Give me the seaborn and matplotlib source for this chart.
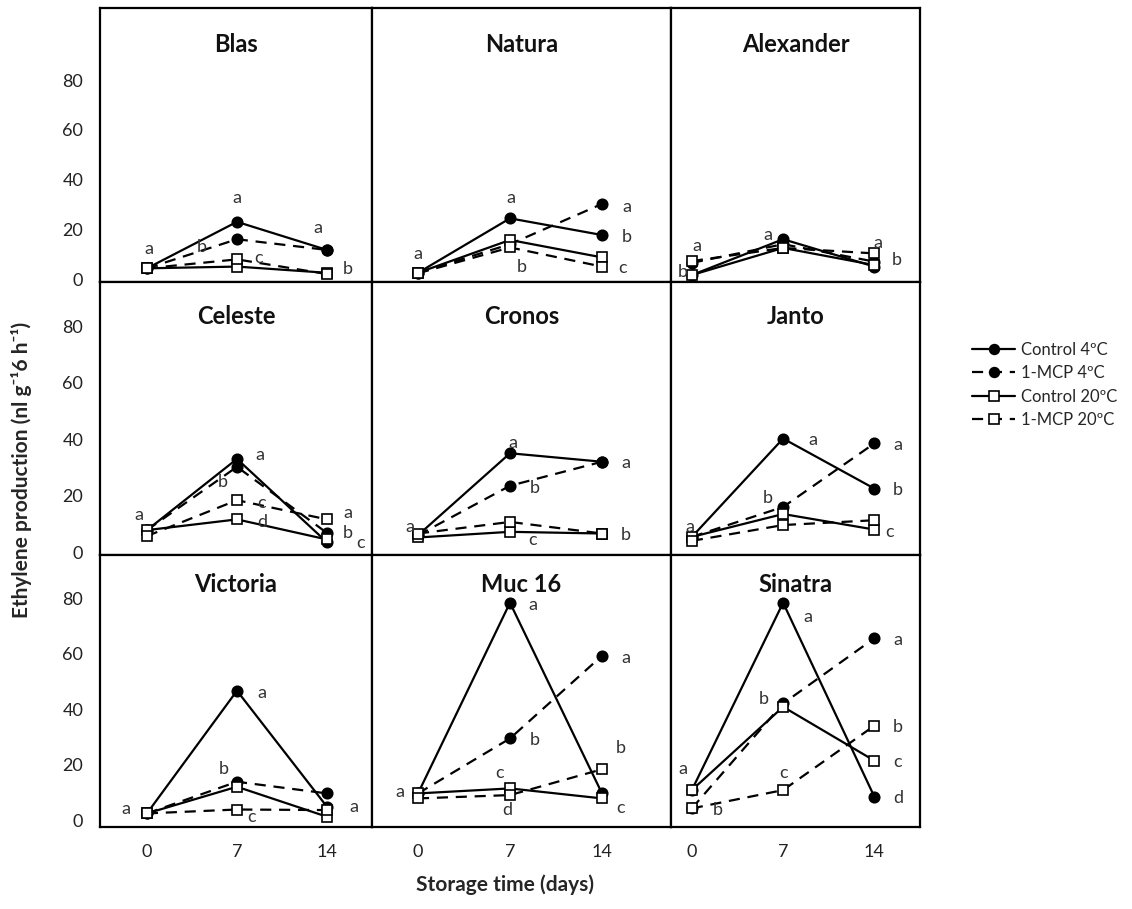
import matplotlib
matplotlib.use("Agg")
import matplotlib.pyplot as plt
from matplotlib.lines import Line2D
import seaborn as sns
import pandas as pd

sns.set_theme(style="white")
plt.rcParams['font.family'] = ['Lato', 'DejaVu Sans']

days = [0, 7, 14]
series_names = ["Control 4ºC", "1-MCP 4ºC", "Control 20ºC", "1-MCP 20ºC"]
cultivars = ["Blas", "Natura", "Alexander",
             "Celeste", "Cronos", "Janto",
             "Victoria", "Muc 16", "Sinatra"]

# values per cultivar: [Control 4, 1-MCP 4, Control 20, 1-MCP 20] at days 0, 7, 14
blas = [[4.3, 23.0, 11.7], [4.3, 16.0, 11.7], [4.3, 5.0, 2.5], [4.3, 7.9, 2.0]]
natura = [[2.5, 24.4, 17.7], [2.5, 14.0, 30.2], [2.5, 15.7, 8.7], [2.3, 12.7, 5.0]]
alexander = [[1.6, 16.0, 5.0], [6.5, 14.0, 7.0], [1.6, 12.5, 5.6], [7.2, 12.5, 10.3]]
celeste = [[7.8, 33.0, 3.5], [7.8, 30.2, 6.8], [7.8, 11.6, 4.5], [5.7, 18.4, 11.6]]
cronos = [[6.0, 35.0, 32.0], [6.0, 23.5, 32.0], [5.2, 7.2, 6.6], [6.6, 10.7, 6.6]]
janto = [[5.4, 40.2, 22.5], [5.4, 16.0, 38.5], [5.4, 13.5, 8.0], [4.0, 9.6, 11.3]]
victoria = [[2.4, 46.6, 4.8], [2.4, 13.8, 9.6], [2.4, 12.0, 1.2], [2.4, 3.8, 3.6]]
muc16 = [[9.6, 78.3, 9.6], [9.6, 29.4, 59.2], [9.6, 11.4, 7.8], [7.8, 9.0, 18.3]]
sinatra = [[10.8, 78.3, 8.4], [4.2, 42.0, 65.5], [10.8, 40.8, 21.4], [4.2, 10.8, 34.0]]
values = [blas, natura, alexander, celeste, cronos, janto, victoria, muc16, sinatra]

# significance letters: (day position, value position, letter)
letters = [
    [(0.15, 12, "a"), (7, 32.6, "a"), (4.3, 12.9, "b"), (8.7, 8.4, "c"), (13.3, 20.5, "a"), (15.6, 4, "b")],
    [(0, 10, "a"), (7.1, 32.6, "a"), (7.9, 4.8, "b"), (15.9, 29, "a"), (15.9, 16.9, "b"), (15.6, 4.4, "c")],
    [(0.4, 13.3, "a"), (-0.7, 2.8, "b"), (5.8, 17.7, "a"), (14.3, 14.5, "a"), (15.7, 7.6, "b")],
    [(-0.6, 13, "a"), (8.8, 34.3, "a"), (5.9, 24.8, "b"), (8.9, 17.3, "c"), (9.0, 10.6, "d"),
     (15.6, 13.8, "a"), (15.6, 6.7, "b"), (16.6, 3.2, "c")],
    [(-0.6, 8.9, "a"), (7.2, 38.6, "a"), (8.9, 22.6, "b"), (8.7, 4.2, "c"), (15.8, 31.5, "a"), (15.8, 6, "b")],
    [(-0.15, 8.9, "a"), (9.3, 39.6, "a"), (5.8, 19, "b"), (15.8, 37.9, "a"), (15.8, 22, "b"), (15.2, 7, "c")],
    [(-1.6, 4, "a"), (8.9, 45.8, "a"), (6.0, 18.4, "b"), (8.1, 1, "c"), (16.1, 4.7, "a")],
    [(-1.4, 10, "a"), (8.75, 77.5, "a"), (6.2, 16.9, "c"), (8.9, 28.8, "b"), (6.8, 3.6, "d"),
     (15.8, 58.4, "a"), (15.4, 25.9, "b"), (15.4, 4.3, "c")],
    [(-0.7, 18.4, "a"), (2.0, 3.6, "b"), (5.5, 43.6, "b"), (7.0, 16.9, "c"), (8.9, 73.2, "a"),
     (15.8, 65, "a"), (15.8, 33.5, "b"), (15.8, 21, "c"), (15.8, 7.9, "d")],
]

yticks = [0, 20, 40, 60, 80]
xticks = [0, 7, 14]

W, H = 1132, 909
fig = plt.figure(figsize=(W / 100, H / 100), dpi=100)

col_px = [(100, 272), (372, 299), (671, 249)]
row_px = [(8, 274), (282, 273), (555, 272)]
col_xlim = [(-3.65, 17.5), (-3.5, 19.25), (-1.6, 17.5)]
row_ylim = [(-1.2, 109), (-1.0, 95.6), (-2.5, 95.5)]
title_off = [37, 34, 29]

styles = [
    dict(linestyle="-", marker="o", markerfacecolor="black"),
    dict(linestyle=(0, (5, 3.5)), marker="o", markerfacecolor="black"),
    dict(linestyle="-", marker="s", markerfacecolor="white"),
    dict(linestyle=(0, (5, 3.5)), marker="s", markerfacecolor="white"),
]

for i, name in enumerate(cultivars):
    r, c = divmod(i, 3)
    x0, w = col_px[c]
    y0, h = row_px[r]
    ax = fig.add_axes([x0 / W, 1 - (y0 + h) / H, w / W, h / H])
    for s, vals in enumerate(values[i]):
        df = pd.DataFrame({"day": days, "val": vals})
        st = styles[s]
        sns.lineplot(data=df, x="day", y="val", ax=ax, color="black", lw=1.6,
                     linestyle=st["linestyle"], marker=st["marker"],
                     markerfacecolor=st["markerfacecolor"], markeredgecolor="black",
                     markeredgewidth=1.2, markersize=7.5 if st["marker"] == "o" else 7,
                     zorder=3 + s)
    for (lx, ly, t) in letters[i]:
        ax.text(lx, ly, t, fontsize=13, color="#333333", ha="center", va="center", zorder=10)
    ax.set_xlim(*col_xlim[c])
    ax.set_ylim(*row_ylim[r])
    ax.text(0.5, 1 - title_off[r] / h, name, transform=ax.transAxes, ha="center",
            va="center", fontsize=17, fontweight="bold", color="#111111", zorder=2)
    ax.set_xlabel("")
    ax.set_ylabel("")
    ax.set_yticks(yticks)
    ax.set_xticks(xticks)
    ax.tick_params(length=0, labelsize=13, colors="#222222", pad=12)
    if c != 0:
        ax.set_yticklabels([])
    if r != 2:
        ax.set_xticklabels([])
    for sp in ax.spines.values():
        sp.set_color("black")
        sp.set_linewidth(1.6)
    ax.grid(False)

fig.text(22 / W, 1 - 470 / H, "Ethylene production (nl g⁻¹6 h⁻¹)", rotation=90,
         ha="center", va="center", fontsize=15, fontweight="bold")
fig.text(505 / W, 1 - 885 / H, "Storage time (days)", ha="center", va="center",
         fontsize=15, fontweight="bold")

handles = []
for s, nm in enumerate(series_names):
    st = styles[s]
    handles.append(Line2D([0], [0], color="black", lw=1.6, linestyle=st["linestyle"],
                          marker=st["marker"], markerfacecolor=st["markerfacecolor"],
                          markeredgecolor="black", markeredgewidth=1.2, markersize=7))
fig.legend(handles, series_names, loc="center left", bbox_to_anchor=(972 / W, 1 - 385 / H),
           frameon=False, fontsize=12, handlelength=2.6, handletextpad=0.35,
           labelspacing=0.45, borderaxespad=0, borderpad=0)

fig.savefig("out.png", dpi=100)
